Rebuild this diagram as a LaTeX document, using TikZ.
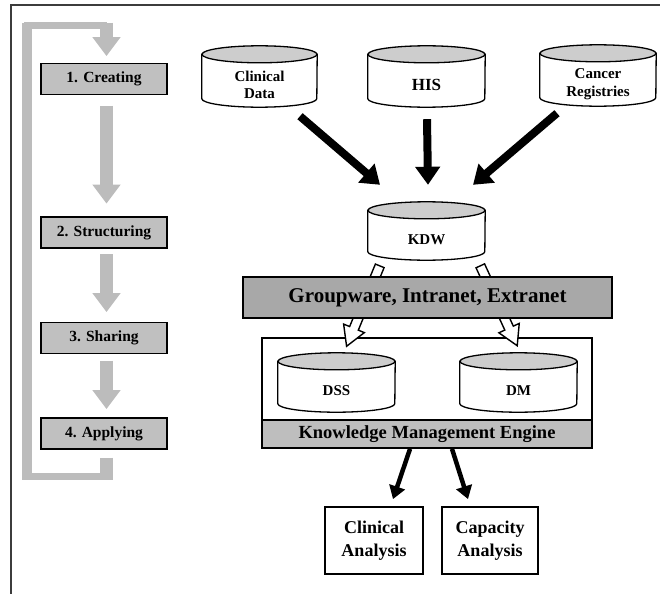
\documentclass[tikz,border=0pt]{standalone}
\usepackage{fontspec}
\setmainfont{Liberation Serif}
\usetikzlibrary{arrows.meta,shapes.arrows,backgrounds}

\definecolor{framegray}{RGB}{60,60,60}
\definecolor{loopgray}{RGB}{188,188,188}
\definecolor{stepgray}{RGB}{192,192,192}
\definecolor{bargray}{RGB}{168,168,168}
\definecolor{enggray}{RGB}{190,190,190}
\definecolor{drumtop}{RGB}{205,205,205}

% database drum drawn around a named node: #1 node, #2 half width in pt
\newcommand\drum[2]{%
  \begin{scope}[on background layer]
    \draw[drumline, fill=white] ([yshift=8.5pt]#1.north west) -- ([yshift=8.5pt]#1.south west)
      arc[start angle=180, end angle=360, x radius=#2pt, y radius=8.5pt]
      -- ([yshift=8.5pt]#1.north east) -- cycle;
    \draw[drumline, fill=drumtop] ([yshift=8.5pt]#1.north) ellipse[x radius=#2pt, y radius=8.5pt];
  \end{scope}}

\tikzset{
  drumline/.style={draw=black, line width=1.3pt},
  drumnode/.style={inner sep=0pt, minimum height=44pt, align=center,
    font=\fontsize{15}{17.5}\selectfont\bfseries},
  stepbox/.style={draw=black, line width=1.8pt, fill=stepgray, minimum width=126pt,
    minimum height=31pt, inner sep=0pt, font=\fontsize{15.5}{18}\selectfont\bfseries},
  steparrow/.style={loopgray, line width=13pt, -{Triangle[length=19pt,width=27pt]}},
  bigarrow/.style={black, line width=8pt, -{Triangle[length=18pt,width=24pt]}},
  smallarrow/.style={black, line width=4.5pt, -{Triangle[length=13pt,width=16pt]}},
  hollowarrow/.style={single arrow, draw=black, line width=1.4pt, fill=white,
    inner sep=4pt, minimum height=87pt, single arrow head extend=6.5pt,
    single arrow tip angle=60, anchor=tail},
  resultbox/.style={draw=black, line width=1.8pt, minimum height=67pt, inner sep=0pt,
    align=center, font=\fontsize{18}{23}\selectfont\bfseries},
}

\begin{document}
\begin{tikzpicture}[x=1pt, y=-1pt]
  \useasboundingbox (0,0) rectangle (660,594);
  \begin{scope}[on background layer]
    \fill[white] (0,0) rectangle (660,594);
  \end{scope}

  % outer frame (top and left edges)
  \coordinate (frameNW) at (11,5);
  \coordinate (frameNE) at (660,5);
  \coordinate (frameSW) at (11,594);
  \draw[framegray, line width=2.5pt] (frameNE) -- (frameNW) -- (frameSW);

  % knowledge cycle steps
  \node[stepbox] (s1) at (104,79)    {1. Creating};
  \node[stepbox] (s2) at (104,232.5) {2. Structuring};
  \node[stepbox] (s3) at (104,338)   {3. Sharing};
  \node[stepbox] (s4) at (104,433.5) {4. Applying};

  \draw[steparrow, shorten <=10.5pt, shorten >=12.5pt] ([xshift=2.5pt]s1.south) -- ([xshift=2.5pt]s2.north);
  \draw[steparrow, shorten <=5.5pt, shorten >=9.5pt] ([xshift=2.5pt]s2.south) -- ([xshift=2.5pt]s3.north);
  \draw[steparrow, shorten <=6.5pt, shorten >=8pt] ([xshift=2.5pt]s3.south) -- ([xshift=2.5pt]s4.north);

  % feedback loop from applying back to creating
  \coordinate (loopSE) at (106.5,476.5);
  \coordinate (loopSW) at (27,476.5);
  \coordinate (loopNW) at (27,26);
  \coordinate (loopNE) at (106.5,26);
  \draw[loopgray, line width=7pt] (loopSE) -- (loopSW) -- (loopNW) -- (loopNE);
  \draw[loopgray, line width=10pt] ([yshift=3pt]loopNW) -- ([yshift=-3.5pt]loopSW);
  \draw[loopgray, line width=13pt, shorten <=8pt] ([xshift=2.5pt]s4.south) -- ([yshift=-3.5pt]loopSE);
  \draw[steparrow, shorten >=6.5pt] ([yshift=3pt]loopNE) -- ([xshift=2.5pt]s1.north);

  % data sources
  \node[drumnode, minimum width=115pt] (cd) at (259.5,85) {Clinical\\Data};
  \node[drumnode, minimum width=117pt, font=\fontsize{17}{20}\selectfont\bfseries] (his) at (426.5,85) {HIS};
  \node[drumnode, minimum width=116pt] (cr) at (598,84) {Cancer\\Registries};
  \drum{cd}{57.5}
  \drum{his}{58.5}
  \drum{cr}{58}

  % knowledge data warehouse
  \node[drumnode, minimum width=117pt, minimum height=41pt] (kdw) at (426.5,239.5) {KDW};
  \drum{kdw}{58.5}

  \draw[bigarrow] ([xshift=40.5pt,yshift=-9pt]cd.south) -- ([xshift=-46.5pt,yshift=34pt]kdw.north);
  \draw[bigarrow] ([xshift=0.5pt,yshift=-12pt]his.south) -- ([xshift=1.5pt,yshift=34pt]kdw.north);
  \draw[bigarrow] ([xshift=-41pt,yshift=-7pt]cr.south) -- ([xshift=46.5pt,yshift=34pt]kdw.north);

  % knowledge management engine
  \node[fill=enggray, minimum width=330pt, minimum height=28pt, inner sep=0pt,
        font=\fontsize{18.5}{22}\selectfont\bfseries] (kmelabel) at (427,434) {Knowledge Management Engine};
  \node[draw=black, line width=1.8pt, minimum width=330pt, minimum height=110pt, inner sep=0pt] (kme) at (427,393) {};
  \draw[black, line width=2.2pt] (kmelabel.north west) -- (kmelabel.north east);
  \node[drumnode, minimum width=117pt, minimum height=42pt] (dss) at (336.5,391) {DSS};
  \node[drumnode, minimum width=117pt, minimum height=42pt] (dm) at (518.5,391) {DM};
  \drum{dss}{58.5}
  \drum{dm}{58.5}

  % distribution from the warehouse into the engine
  \node[hollowarrow, rotate=247.6] (toDSS) at ([xshift=-46.5pt,yshift=-5pt]kdw.south) {};
  \node[hollowarrow, rotate=294.8, minimum height=88pt] (toDM) at ([xshift=53.5pt,yshift=-5pt]kdw.south) {};

  \node[draw=black, line width=1.8pt, fill=bargray, minimum width=369pt, minimum height=41pt,
        inner sep=0pt, font=\fontsize{21}{25}\selectfont\bfseries] (gw) at (427.5,297.5) {Groupware, Intranet, Extranet};

  % analyses
  \node[resultbox, minimum width=98pt] (ca) at (374,540.5) {Clinical\\Analysis};
  \node[resultbox, minimum width=96pt] (cap) at (490,540.5) {Capacity\\Analysis};
  \draw[smallarrow] ([xshift=-17pt]kme.south) -- ([xshift=19pt,yshift=7pt]ca.north);
  \draw[smallarrow] ([xshift=25pt]kme.south) -- ([xshift=-22pt,yshift=7pt]cap.north);
\end{tikzpicture}
\end{document}
